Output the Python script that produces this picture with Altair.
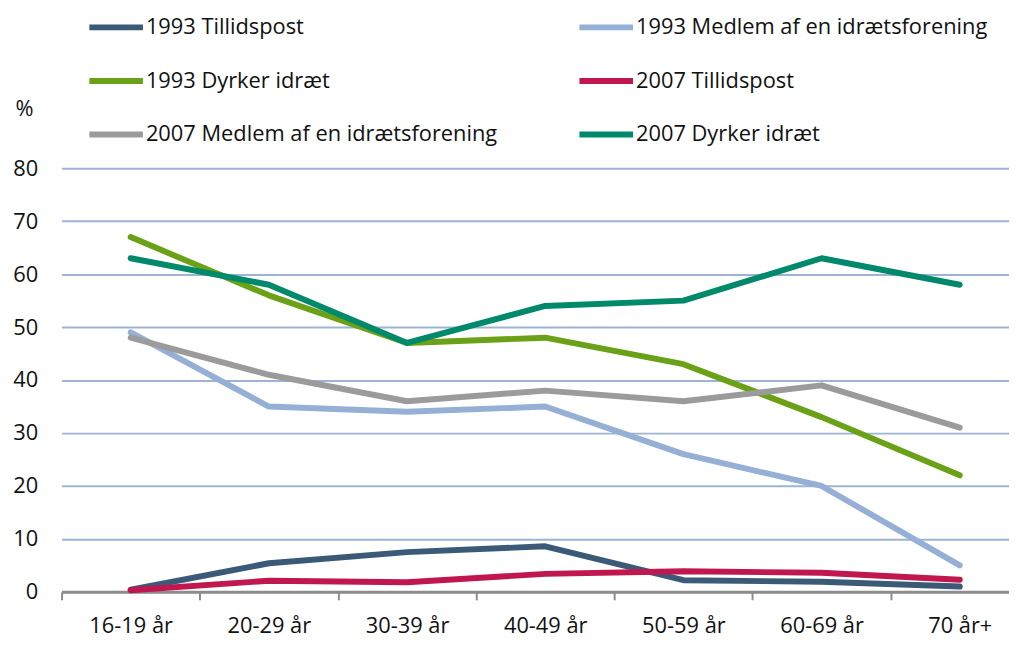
import altair as alt
import pandas as pd

categories = ["16-19 år", "20-29 år", "30-39 år", "40-49 år", "50-59 år", "60-69 år", "70 år+"]

series_names = [
    "1993 Tillidspost",
    "1993 Medlem af en idrætsforening",
    "1993 Dyrker idræt",
    "2007 Tillidspost",
    "2007 Medlem af en idrætsforening",
    "2007 Dyrker idræt",
]
series_colors = ["#3B5A78", "#95B0D4", "#6AA116", "#C0174F", "#9B9B9B", "#00896B"]

t1993_tillid = [0.4, 5.4, 7.5, 8.6, 2.2, 1.9, 1.0]
t1993_medlem = [49, 35, 34, 35, 26, 20, 5]
t1993_dyrker = [67, 56, 47, 48, 43, 33, 22]
t2007_tillid = [0.3, 2.1, 1.8, 3.4, 3.9, 3.6, 2.3]
t2007_medlem = [48, 41, 36, 38, 36, 39, 31]
t2007_dyrker = [63, 58, 47, 54, 55, 63, 58]

all_values = [t1993_tillid, t1993_medlem, t1993_dyrker, t2007_tillid, t2007_medlem, t2007_dyrker]

rows = []
for name, vals in zip(series_names, all_values):
    for c, v in zip(categories, vals):
        rows.append({"serie": name, "alder": c, "pct": v})
df = pd.DataFrame(rows)

# legend fills column by column: reorder so rows read as in the original
legend_order = [0, 2, 4, 1, 3, 5]
dom = [series_names[i] for i in legend_order]
rng = [series_colors[i] for i in legend_order]

FONT = "Open Sans"

chart = alt.Chart(df).mark_line(strokeWidth=6, strokeCap="round", strokeJoin="round").encode(
    x=alt.X("alder:N", sort=categories, bandPosition=0.5,
            scale=alt.Scale(type="band", paddingInner=0, paddingOuter=0),
            axis=alt.Axis(title=None, labelAngle=0, tickBand="extent", grid=False,
                          domainColor="#8C8C8C", domainWidth=3, tickColor="#8C8C8C",
                          tickWidth=2, tickSize=8, labelPadding=16, labelFontSize=22,
                          labelFont=FONT, labelColor="#111111")),
    y=alt.Y("pct:Q", scale=alt.Scale(domain=[0, 80], nice=False),
            axis=alt.Axis(values=list(range(0, 81, 10)), domain=False, ticks=False,
                          gridColor="#9DB4D5", gridWidth=2, labelPadding=24,
                          labelFontSize=22, labelFont=FONT, labelColor="#111111",
                          title="%", titleAngle=0, titleX=-47, titleY=-60,
                          titleFontSize=22, titleFontWeight="normal", titleFont=FONT,
                          titleAlign="left", titleBaseline="middle", titleColor="#111111")),
    color=alt.Color("serie:N", sort=dom,
                    scale=alt.Scale(domain=dom, range=rng),
                    legend=alt.Legend(title=None, orient="none", legendX=25, legendY=-172,
                                      columns=2, columnPadding=70, rowPadding=12,
                                      symbolType="stroke", symbolSize=2916,
                                      symbolStrokeWidth=6, labelOffset=0,
                                      labelFontSize=22, labelFont=FONT, labelColor="#111111",
                                      labelLimit=600)),
).properties(
    width=975, height=427,
    autosize=alt.AutoSizeParams(type="none"),
    padding={"left": 54, "top": 159, "right": -20, "bottom": 46},
).configure_view(stroke=None)

chart.save("out.html", embed_options={"renderer": "svg", "actions": False})
